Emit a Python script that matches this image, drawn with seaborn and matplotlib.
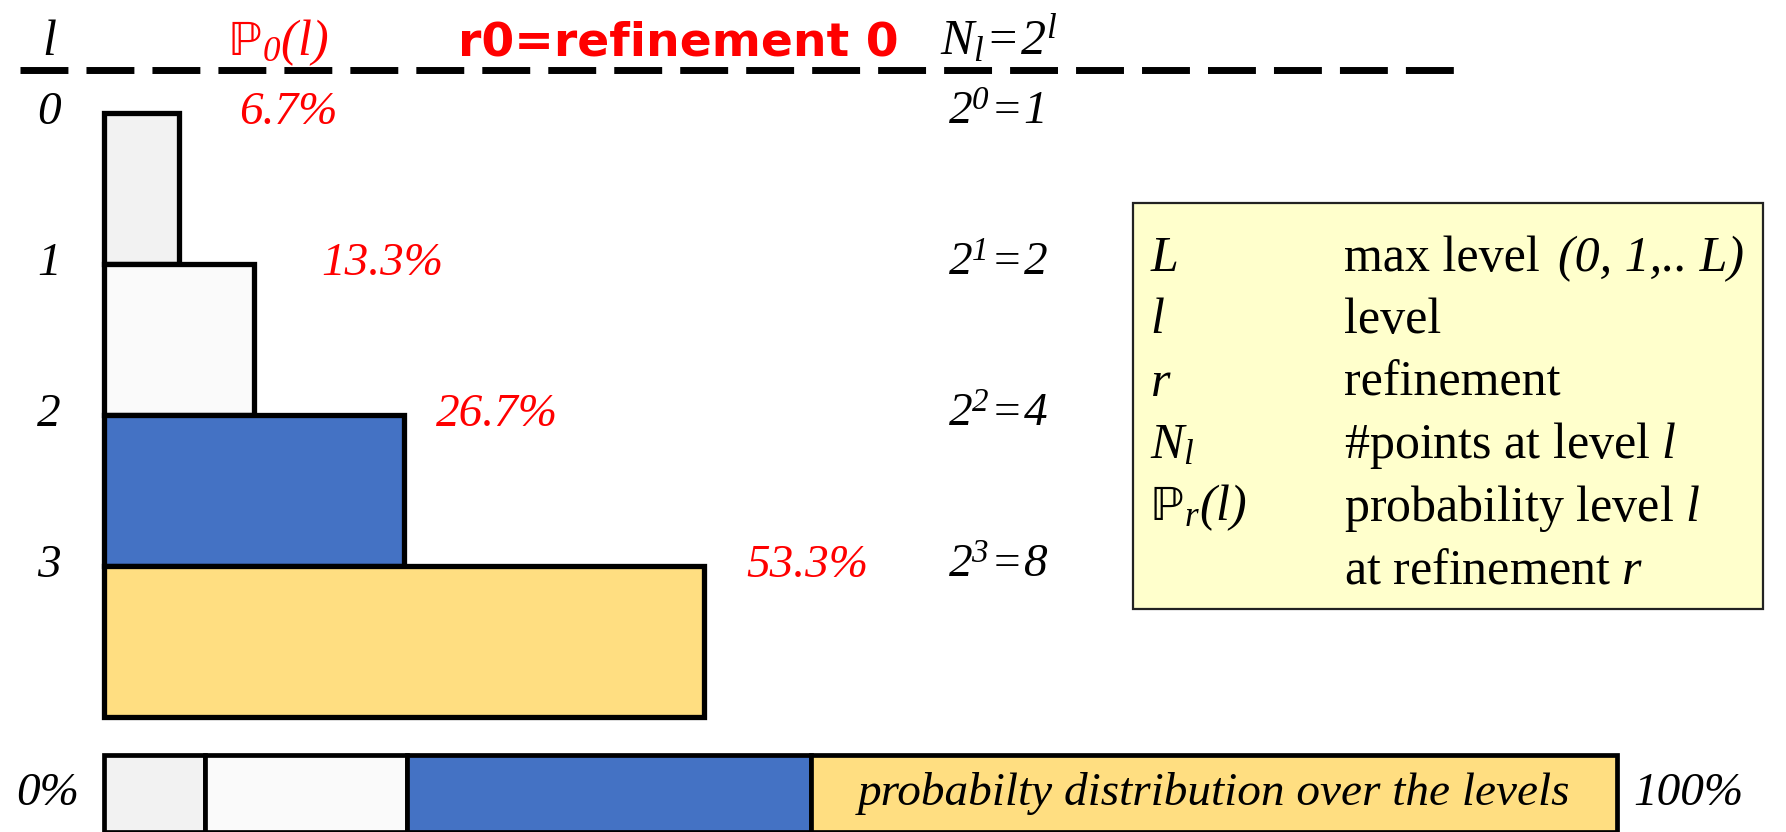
import numpy as np
import pandas as pd
import seaborn as sns
import matplotlib.pyplot as plt
from matplotlib.patches import Rectangle

# data
levels = ['0', '1', '2', '3']
n_points = [1, 2, 4, 8]
n_labels = [r'$2^0\!=\!1$', r'$2^1\!=\!2$', r'$2^2\!=\!4$', r'$2^3\!=\!8$']
probs = [6.7, 13.3, 26.7, 53.3]
prob_labels = ['6.7%', '13.3%', '26.7%', '53.3%']
colors = ['#F2F2F2', '#FAFAFA', '#4472C4', '#FFDE81']

legend_symbols = ['$L$', '$l$', '$r$', '$N_l$', r'$ℙ_r(l)$', '']
legend_texts = ['max level', 'level', 'refinement',
                '#points at level $l$', 'probability level $l$',
                'at refinement $r$']

sns.set_style('white')
plt.rcParams['font.family'] = ['Liberation Serif', 'DejaVu Serif']
plt.rcParams['text.color'] = 'black'
plt.rcParams['mathtext.fontset'] = 'custom'
plt.rcParams['mathtext.it'] = 'Liberation Serif:italic'
plt.rcParams['mathtext.rm'] = 'Liberation Serif:italic'
plt.rcParams['mathtext.fallback'] = 'stix'

W, H = 1786, 832
fig = plt.figure(figsize=(W / 100, H / 100), dpi=100)

# main axes over the whole figure, scaled so one point = 75 px, one level = 151 px
X0, UNIT, TOP, ROW = 104, 75, 113, 151
ax = fig.add_axes([0, 0, 1, 1])
df = pd.DataFrame({'level': levels, 'points': n_points})
sns.barplot(data=df, x='points', y='level', hue='level', orient='h',
            palette=dict(zip(levels, colors)), saturation=1, width=1,
            edgecolor='black', linewidth=3.8, legend=False, ax=ax)
ax.set_xlim(-X0 / UNIT, (W - X0) / UNIT)
ax.set_ylim((H - TOP) / ROW - 0.5, -TOP / ROW - 0.5)
ax.axis('off')


def px(x, y):
    return x / W, 1 - y / H


# row labels
pct_dx = [0.8, 0.9, 0.43, 0.57]
for i, lev in enumerate(levels):
    yb = i - 0.5
    ax.text(-0.73, yb, lev, fontsize=34, style='italic', ha='center', va='center')
    ax.text(n_points[i] + pct_dx[i], yb, prob_labels[i], fontsize=34,
            style='italic', color='red', ha='left', va='center')
    ax.text(11.25, yb, n_labels[i], fontsize=34, ha='left', va='center')

# header
yh = (55 - TOP) / ROW - 0.5
ax.text(-0.73, yh, '$l$', fontsize=36, ha='center', va='baseline')
ax.text((228 - X0) / UNIT, yh, r'$ℙ_0(l)$', fontsize=36, color='red',
        ha='left', va='baseline')
ax.text((678 - X0) / UNIT, yh, 'r0=refinement 0', fontsize=34, color='#FF0000',
        family='DejaVu Sans', weight='bold', ha='center', va='baseline')
ax.text((940 - X0) / UNIT, yh, '$N_l\\!=\\!2^l$', fontsize=36, ha='left',
        va='baseline')
yd = (70 - TOP) / ROW - 0.5
ax.plot([(20 - X0) / UNIT, (1456 - X0) / UNIT], [yd, yd], color='black',
        lw=5, dashes=(6.9, 2.6))

# legend box
x0, y1 = px(1133, 609)
ax.add_patch(Rectangle((x0, y1), 630 / W, 406 / H, transform=ax.transAxes,
                       facecolor='#FFFFCC', edgecolor='#222222', lw=1.6))
for i, (s, t) in enumerate(zip(legend_symbols, legend_texts)):
    yy = 271 + 62.4 * i
    ax.text(*px(1150, yy), s, fontsize=36, transform=ax.transAxes, va='baseline')
    ax.text(*px(1344, yy), t, fontsize=36, transform=ax.transAxes, va='baseline')
ax.text(*px(1558, 271), '(0, 1,.. L)', fontsize=36, style='italic',
        transform=ax.transAxes, va='baseline')

# bottom strip: cumulative distribution
ax2 = fig.add_axes([X0 / W, 0, 1513 / W, 77 / H])
left = np.concatenate([[0], np.cumsum(probs)[:-1]])
ax2.barh([0.5] * 4, probs, left=left, height=1, color=colors,
         edgecolor='black', linewidth=3.4, clip_on=False)
ax2.set_xlim(0, sum(probs))
ax2.set_ylim(0, 1)
ax2.axis('off')
ax2.text(left[3] + probs[3] / 2, 0.5, 'probabilty distribution over the levels',
         fontsize=34, style='italic', ha='center', va='center')
ax.text(*px(48, 794), '0%', fontsize=34, style='italic', ha='center',
        va='center', transform=ax.transAxes)
ax.text(*px(1688, 794), '100%', fontsize=34, style='italic', ha='center',
        va='center', transform=ax.transAxes)

fig.savefig('out.png', dpi=100)
